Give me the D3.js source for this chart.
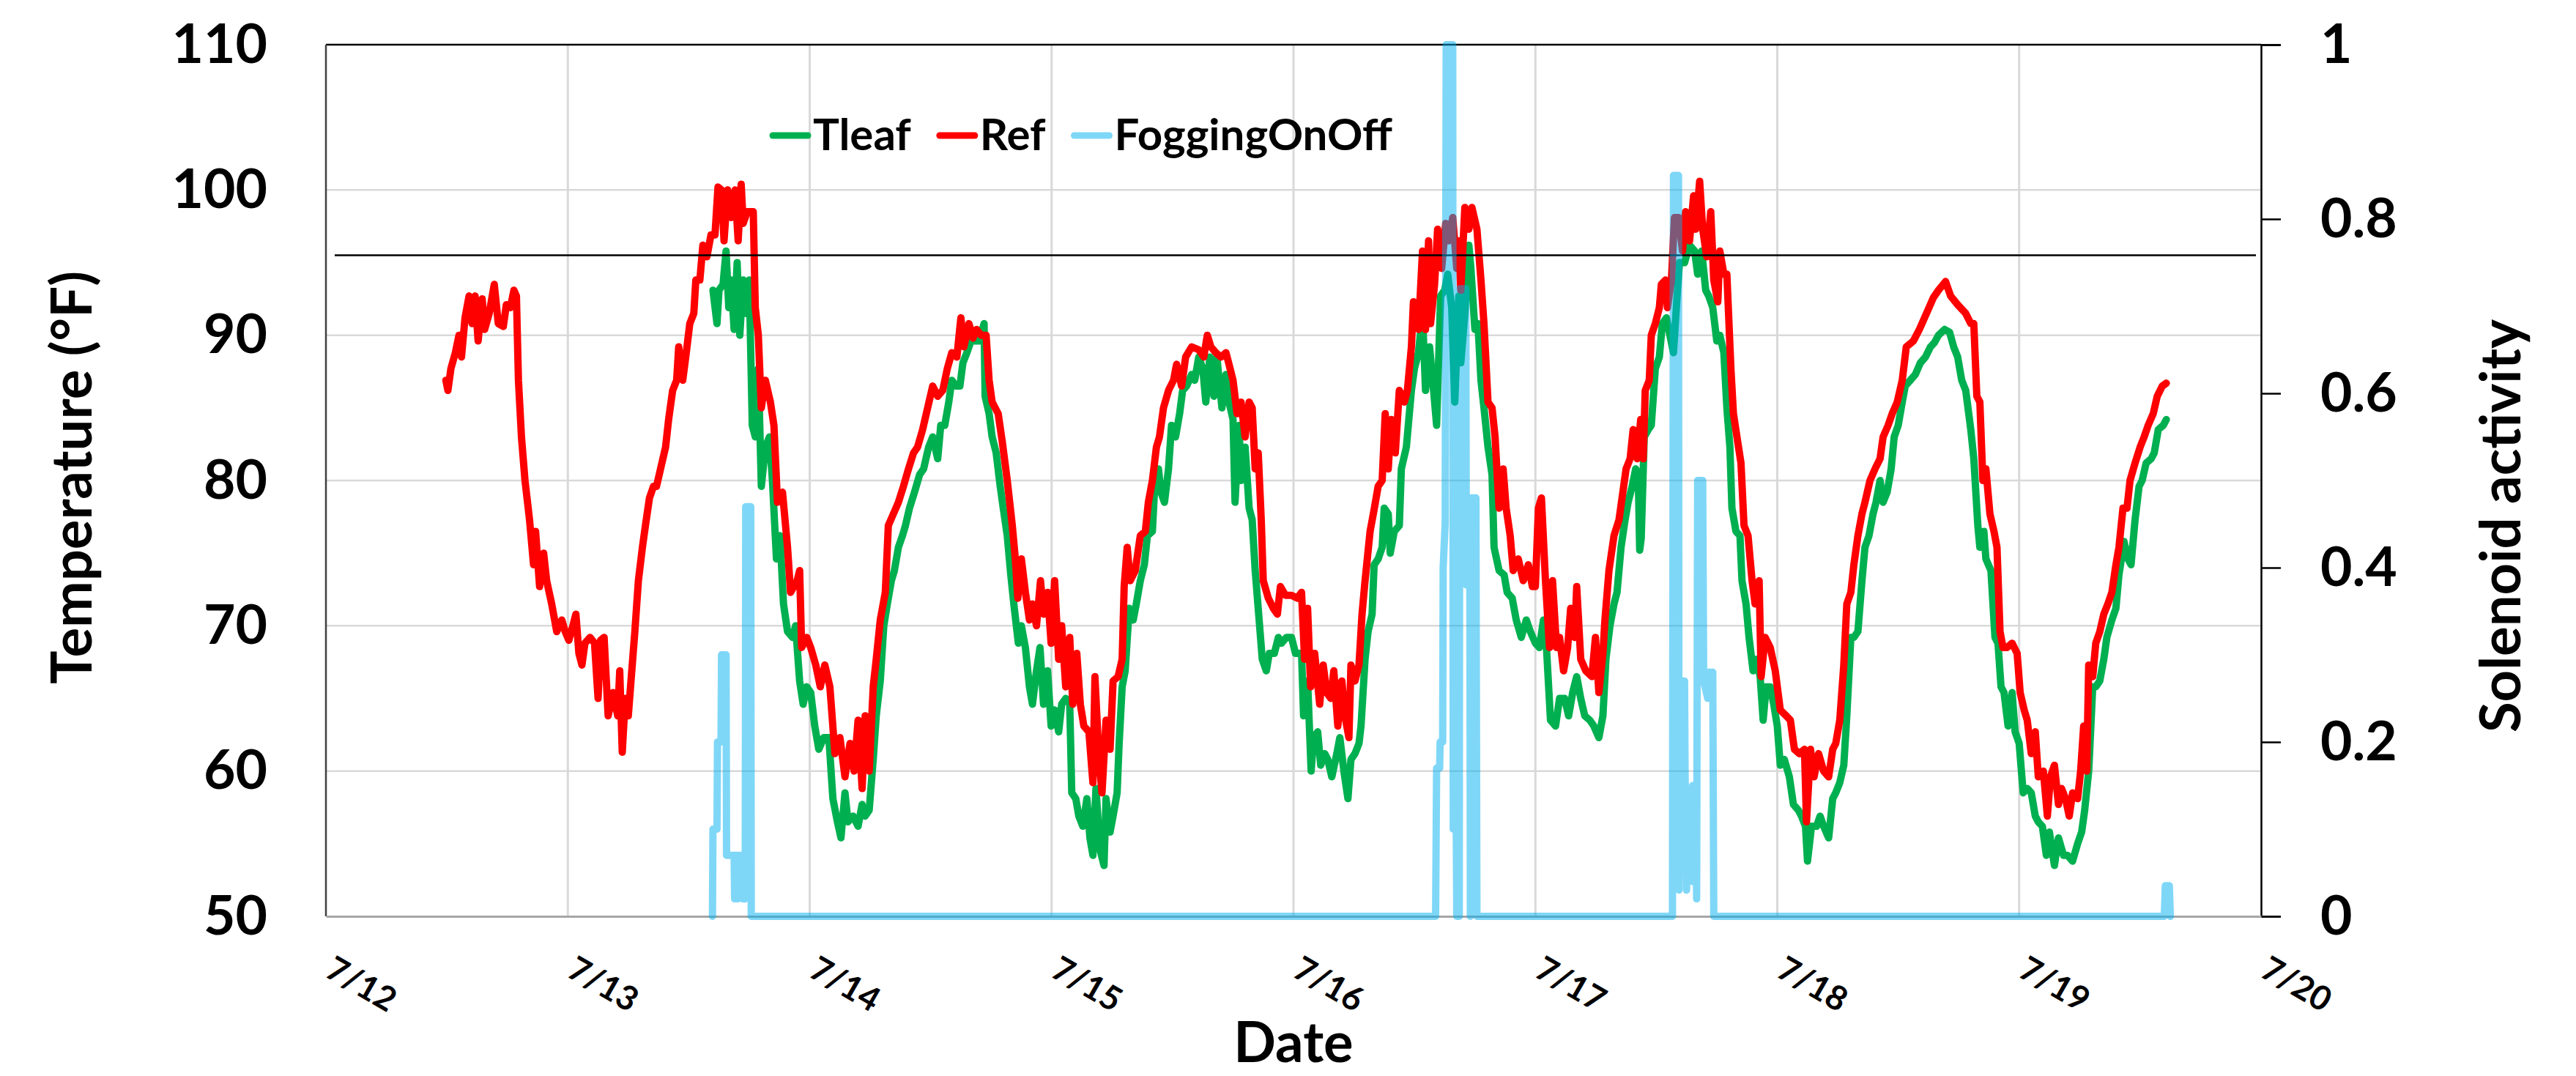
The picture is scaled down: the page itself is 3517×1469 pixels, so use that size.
<!DOCTYPE html>
<html>
<head>
<meta charset="utf-8">
<title>Tleaf / Ref / FoggingOnOff</title>
<script src="https://cdn.jsdelivr.net/npm/d3@7"></script>
<style>
body { margin: 0; background: #fff; }
svg { display: block; background: #fff; font-family: Lato, "Open Sans", sans-serif; font-weight: bold; }
.grid line { stroke: #d9d9d9; }
</style>
</head>
<body>
<script>
// hours since 7/12 00:00, value
var tleafData = [[38.4,93.1],[38.8,90.8],[39.0,93.1],[39.4,93.5],[39.7,95.8],[39.97,91.9],[40.2,93.8],[40.5,90.4],[40.8,95],[41.06,90],[41.4,93.8],[41.7,91.5],[42.0,93.8],[42.3,83.8],[42.6,83],[42.9,87.7],[43.2,79.6],[43.6,82.3],[44.0,83],[44.3,80],[44.7,74.6],[45.05,76.2],[45.4,71.5],[45.8,69.6],[46.3,69.2],[46.6,70],[47.0,66.2],[47.35,64.6],[47.7,65.8],[48.1,65.4],[48.5,63.1],[48.9,61.5],[49.4,62.3],[49.9,62.3],[50.3,58.1],[50.75,56.5],[51.1,55.4],[51.5,58.5],[51.8,56.5],[52.3,56.9],[52.8,56.2],[53.2,57.7],[53.5,56.9],[53.9,57.3],[54.3,60.8],[54.6,63.8],[55.0,66.2],[55.35,70],[55.7,71.5],[56.1,73.1],[56.4,73.8],[56.8,75.4],[57.2,76.2],[57.5,76.9],[57.9,78.1],[58.4,79.2],[58.9,80.4],[59.3,80.8],[59.8,82.3],[60.2,83],[60.7,81.5],[61.0,83.8],[61.4,83.8],[61.8,85.4],[62.1,86.9],[62.5,86.5],[62.9,86.5],[63.2,88.1],[63.6,88.8],[64.0,89.6],[64.3,89.6],[64.8,89.6],[65.3,90.8],[65.4,85.8],[65.8,84.6],[66.1,83],[66.5,81.9],[66.9,79.6],[67.2,78.1],[67.6,76.2],[67.95,73.5],[68.3,71.2],[68.7,68.8],[69.0,70],[69.4,68.5],[69.8,65.8],[70.1,64.6],[70.5,66.9],[70.85,68.5],[71.2,64.6],[71.6,66.9],[71.95,63.1],[72.3,64.2],[72.7,62.7],[73.0,64.6],[73.4,65],[73.8,64.6],[74.0,58.5],[74.4,58.1],[74.7,56.9],[75.1,56.2],[75.5,58.1],[75.8,55.4],[76.1,54.2],[76.4,58.8],[76.8,54.6],[77.2,53.5],[77.4,58.1],[77.8,55.8],[78.1,56.9],[78.5,58.5],[78.7,61.9],[79.0,65.8],[79.3,66.9],[79.7,71.2],[80.1,70.4],[80.4,71.5],[80.8,73.1],[81.2,74.2],[81.5,76.2],[82.0,76.5],[82.2,79.2],[82.6,80.8],[82.85,79.2],[83.2,78.5],[83.6,80.8],[83.9,83.8],[84.3,83],[84.7,84.6],[85.0,86.2],[85.4,86.5],[85.9,87.3],[86.2,86.9],[86.6,88.5],[87.0,87.7],[87.3,85.4],[87.7,88.5],[88.1,85.8],[88.4,88.5],[88.9,85],[89.3,87.3],[89.6,85.4],[90.0,84.2],[90.2,78.5],[90.6,83.8],[90.8,80],[91.2,82.3],[91.6,78.1],[91.9,77.3],[92.2,73.8],[92.5,71.2],[92.9,67.7],[93.3,66.9],[93.6,68.1],[94.1,68.1],[94.5,69.2],[94.8,68.8],[95.3,69.2],[95.8,69.2],[96.2,68.1],[96.8,68.1],[97.0,63.8],[97.4,66.2],[97.75,60],[98.0,62.3],[98.4,62.7],[98.7,60.4],[99.1,61.2],[99.4,60.8],[99.8,59.6],[100.3,61.2],[100.6,62.3],[101.0,60],[101.4,58.1],[101.7,60.8],[102.1,61.2],[102.5,61.9],[102.7,63.1],[103.1,67.7],[103.4,69.6],[103.8,70.8],[104.0,74.2],[104.4,74.6],[104.8,75.4],[105.0,78.1],[105.4,77.7],[105.6,75],[106.0,76.5],[106.5,76.9],[106.7,80.8],[107.2,82.3],[107.7,86.2],[108.0,87.7],[108.4,88.8],[108.8,91.5],[109.1,86.2],[109.5,89.2],[109.9,86.2],[110.2,83.8],[110.6,92.7],[111.0,93.1],[111.3,94.2],[111.7,91.9],[112.0,85.4],[112.4,92.7],[112.6,88.1],[113.0,91.5],[113.4,96.2],[113.6,94.6],[114.0,90.4],[114.3,90.8],[114.6,86.9],[114.9,85],[115.3,82.3],[115.7,80.4],[115.9,75.4],[116.4,73.8],[116.9,73.5],[117.2,72.3],[117.7,71.9],[118.1,70.4],[118.6,69.2],[119.1,70.4],[119.5,69.6],[120.0,68.8],[120.4,68.5],[120.8,70.4],[121.1,68.5],[121.5,63.5],[122.0,63.1],[122.4,65],[122.9,65],[123.3,63.8],[123.7,65.4],[124.1,66.5],[124.5,65],[124.9,63.8],[125.4,63.5],[125.8,63.1],[126.3,62.3],[126.7,63.8],[127.0,67.7],[127.4,70],[127.8,71.5],[128.1,72.3],[128.5,75.4],[128.9,77.3],[129.2,78.5],[129.6,79.6],[129.95,80.8],[130.2,80.5],[130.35,75.2],[130.5,76],[130.8,83],[131.2,83.5],[131.5,83.8],[131.9,87.7],[132.3,88.5],[132.6,90.8],[133.0,91.2],[133.35,90],[133.7,88.8],[134.1,93.1],[134.3,95],[134.8,95],[135.3,96.2],[135.8,95.8],[136.1,94.2],[136.5,95.8],[136.9,93.1],[137.2,92.7],[137.6,91.9],[138.0,89.6],[138.3,90],[138.7,88.8],[139.0,85],[139.3,82.3],[139.5,78.1],[139.9,76.5],[140.3,76.2],[140.5,73.1],[140.9,71.5],[141.2,69.2],[141.6,66.9],[141.95,67.7],[142.3,66.5],[142.6,63.5],[142.9,65.8],[143.3,65.8],[143.65,64.6],[144.0,63.1],[144.3,60.4],[144.7,60.8],[145.2,59.6],[145.6,57.7],[146.1,57.3],[146.4,56.9],[146.8,56.2],[147.0,53.8],[147.4,56.2],[147.9,56.2],[148.25,56.9],[148.6,56.2],[149.1,55.4],[149.5,58.1],[149.8,58.5],[150.2,59.2],[150.6,60.4],[150.9,63.8],[151.3,69.2],[151.6,69.2],[152.0,69.6],[152.4,73.1],[152.7,75.4],[153.1,76.2],[153.5,77.7],[153.8,78.5],[154.2,80],[154.5,78.5],[154.9,79.2],[155.3,80.8],[155.6,83],[156.0,83.8],[156.4,85.4],[156.7,86.5],[157.2,86.9],[157.7,87.3],[158.2,88.1],[158.7,88.5],[159.2,89.2],[159.6,89.5],[160.0,90],[160.6,90.4],[161.1,90.2],[161.5,89.2],[161.9,88.5],[162.3,86.9],[162.7,86.2],[163.2,83.5],[163.5,81.5],[163.9,76.9],[164.1,75.4],[164.5,76.5],[164.7,74.6],[165.2,73.8],[165.6,69.2],[165.9,68.8],[166.2,65.8],[166.5,65.4],[166.9,63.1],[167.3,65.4],[167.6,62.7],[168.0,61.9],[168.4,58.5],[168.8,58.8],[169.2,58.5],[169.6,56.9],[169.9,56.5],[170.3,56.2],[170.7,54.2],[171.0,55.8],[171.5,53.5],[171.9,55.4],[172.4,54.2],[172.8,54.2],[173.3,53.8],[173.8,55],[174.2,55.8],[174.5,57.3],[174.9,60],[175.3,65.8],[175.6,65.8],[176.0,66.2],[176.4,67.7],[176.7,69.2],[177.2,70.4],[177.6,71.2],[177.9,73.5],[178.4,75.8],[178.8,74.6],[179.1,74.2],[179.5,77.3],[179.9,79.6],[180.2,80],[180.6,81.2],[181.1,81.5],[181.4,81.9],[181.8,83.5],[182.3,83.8],[182.6,84.2]];

var refData = [[11.9,86.9],[12.1,86.2],[12.4,87.7],[12.84,88.8],[13.2,90],[13.45,88.5],[13.8,91.2],[14.2,92.7],[14.5,90.8],[14.8,92.7],[15.1,89.6],[15.5,92.5],[15.75,90.4],[16.2,91.5],[16.7,93.5],[17.1,90.8],[17.6,90.6],[17.9,92.1],[18.3,91.9],[18.65,93.1],[18.9,92.7],[19.1,86.9],[19.4,83],[19.75,80],[20.2,77.3],[20.6,74.2],[20.8,76.5],[21.2,72.7],[21.6,75],[21.9,73.1],[22.4,71.5],[22.9,69.6],[23.4,70.4],[23.74,69.6],[24.1,69],[24.5,70],[24.8,70.8],[25.1,68.1],[25.4,67.3],[25.7,68.8],[26.2,69.2],[26.65,68.8],[27.0,65],[27.25,69],[27.6,69.2],[28.0,63.8],[28.5,65.4],[28.95,63.8],[29.15,66.9],[29.4,61.3],[29.7,65],[30.0,63.8],[30.3,66.5],[30.65,69.6],[31.0,73.1],[31.4,75.4],[31.7,76.9],[32.1,78.8],[32.5,79.6],[32.8,79.6],[33.2,80.8],[33.7,82.3],[34.0,84.2],[34.4,86.2],[34.8,86.9],[35.0,89.2],[35.4,86.9],[35.7,88.5],[36.1,90.8],[36.5,91.5],[36.7,93.8],[37.1,93.8],[37.4,96.2],[37.8,95.4],[38.2,96.9],[38.6,96.9],[38.9,100.2],[39.25,100],[39.5,96.5],[39.85,100],[40.2,98.1],[40.6,100],[40.9,96.5],[41.2,100.4],[41.4,97.7],[41.8,98.5],[42.4,98.5],[42.6,91.9],[42.9,90],[43.2,85],[43.6,86.9],[44.1,85.4],[44.45,83.8],[44.8,78.5],[45.3,79.2],[45.8,75.4],[46.1,72.3],[46.75,73.1],[47.0,73.8],[47.2,68.5],[47.7,69.2],[48.1,68.5],[48.6,67.3],[49.05,65.8],[49.5,67.3],[50.0,65.8],[50.5,61.2],[51.0,62.3],[51.5,59.6],[52.0,61.9],[52.4,60],[52.8,63.5],[53.2,58.8],[53.5,63.8],[53.9,60],[54.3,65.8],[54.6,67.7],[55.0,70.4],[55.5,72.3],[55.8,76.9],[56.3,77.7],[56.8,78.5],[57.3,79.6],[57.8,80.8],[58.3,81.9],[58.7,82.3],[59.2,83.5],[59.7,85],[60.2,86.5],[60.7,85.8],[61.2,86.2],[61.65,87.7],[62.1,88.8],[62.6,88.5],[63.0,91.2],[63.3,89.2],[63.8,90.8],[64.2,89.8],[64.55,90.4],[65.0,90],[65.5,90],[65.8,86.9],[66.1,85.4],[66.7,84.6],[67.1,82.7],[67.6,80],[68.1,76.9],[68.4,74.6],[68.65,71.9],[69.0,74.6],[69.4,72.3],[69.8,70.4],[70.1,71.5],[70.5,70],[70.9,73.1],[71.2,70.8],[71.6,72.3],[71.95,68.8],[72.3,73.1],[72.7,67.7],[73.0,70],[73.4,65.8],[73.8,69.2],[74.1,64.6],[74.5,68.1],[74.85,64.6],[75.2,63.1],[75.7,62.7],[76.1,59.2],[76.3,66.5],[76.7,60.8],[77.0,58.5],[77.4,63.5],[77.8,61.5],[78.1,66.2],[78.6,66.5],[79.0,67.7],[79.2,72.7],[79.5,75.4],[79.8,73.1],[80.3,73.8],[80.8,76.2],[81.3,76.5],[81.6,78.5],[82.0,80],[82.4,82.3],[82.7,83],[83.1,85],[83.6,86.2],[84.1,86.9],[84.4,88],[84.9,86.5],[85.3,88.5],[85.9,89.2],[86.6,89],[87.1,88.5],[87.45,90],[87.8,89.2],[88.3,88.8],[88.8,88.5],[89.3,88.8],[89.6,88],[90.0,86.9],[90.4,84.6],[90.8,85.4],[91.2,83],[91.6,85.4],[91.9,85],[92.2,80.8],[92.5,81.9],[92.8,77.3],[93.0,73.1],[93.5,71.9],[94.0,71.2],[94.4,70.8],[94.7,72.7],[95.2,72.1],[95.8,72.1],[96.4,71.9],[96.8,72.3],[97.1,67.7],[97.4,71.2],[97.7,65.8],[98.1,68.1],[98.6,64.6],[98.95,67.3],[99.3,65.4],[99.7,65],[100.0,66.9],[100.4,63.1],[100.8,66.2],[101.1,63.8],[101.5,62.3],[101.7,67.3],[102.1,66.2],[102.5,67.3],[102.8,70.8],[103.1,73.1],[103.6,76.5],[104.0,78],[104.4,79.6],[104.8,80],[105.1,84.6],[105.4,80.8],[105.7,84.2],[106.1,81.9],[106.5,86.2],[107.0,85.4],[107.3,86.2],[107.7,89.2],[107.9,92.3],[108.4,90.4],[108.8,95.8],[109.1,90.4],[109.4,96.5],[109.6,90.8],[110.0,93.5],[110.3,97.3],[110.7,94.6],[111.1,97.7],[111.4,96.5],[111.8,98.1],[112.2,94.6],[112.4,96.5],[112.6,93.1],[113.0,98.8],[113.4,97.3],[113.7,98.8],[114.2,97.3],[114.6,93.8],[114.9,90.8],[115.3,85.4],[115.7,85],[116.0,83],[116.4,78.1],[116.8,80.8],[117.1,78.1],[117.5,76.2],[117.8,73.8],[118.3,74.6],[118.8,73.1],[119.3,74.2],[119.7,72.7],[120.0,72.7],[120.3,78.1],[120.6,78.8],[121.0,73.1],[121.4,68.5],[121.7,73.1],[122.1,68.5],[122.4,69.2],[122.8,66.9],[123.2,68.5],[123.5,71.2],[123.9,69.2],[124.1,72.7],[124.5,67.7],[125.0,66.9],[125.6,66.5],[125.96,69.2],[126.3,65.4],[126.7,68.1],[126.9,70.4],[127.3,73.8],[127.8,76.2],[128.3,77.3],[128.6,78.8],[129.0,80.8],[129.4,81.5],[129.7,83.5],[130.1,81.5],[130.45,84.2],[130.7,81.5],[130.9,86.2],[131.3,86.9],[131.5,90],[131.9,90.8],[132.3,91.9],[132.5,93.5],[132.9,93.8],[133.1,91.9],[133.5,93.8],[133.8,98.1],[134.2,98.1],[134.6,95.8],[134.9,98.5],[135.3,96.5],[135.7,99.6],[135.9,97.3],[136.3,100.6],[136.6,97.3],[137.0,95.4],[137.4,98.5],[137.7,93.8],[138.1,92.3],[138.3,95.8],[138.7,94.2],[139.0,94.2],[139.4,87.7],[139.65,84.6],[140.0,83],[140.4,81.2],[140.7,76.9],[141.1,76.2],[141.5,73.1],[141.8,71.5],[142.2,73.1],[142.4,66.5],[142.8,69.2],[143.3,68.5],[143.8,66.9],[144.3,64.2],[144.9,63.8],[145.3,63.5],[145.7,61.5],[146.2,61.2],[146.7,61.5],[146.9,56.5],[147.3,61.5],[147.65,59.6],[148.1,61.2],[148.6,60],[149.1,59.6],[149.5,61.5],[149.8,61.9],[150.2,63.5],[150.6,67.3],[150.9,71.5],[151.3,72.3],[151.6,74.2],[152.0,76.2],[152.4,77.7],[152.7,78.5],[153.2,80],[153.7,80.8],[154.2,81.5],[154.5,83],[155.0,83.8],[155.4,84.6],[155.9,85.4],[156.4,86.9],[156.8,89.2],[157.5,89.6],[158.1,90.4],[158.8,91.5],[159.5,92.6],[160.0,93.1],[160.7,93.7],[161.2,92.7],[161.9,92.1],[162.7,91.5],[163.2,90.8],[163.5,90.8],[163.8,85.8],[164.1,85.4],[164.4,80],[164.7,80.8],[165.1,77.7],[165.5,76.5],[165.8,75.4],[166.1,69.6],[166.4,68.5],[166.8,68.5],[167.3,68.8],[167.8,68.1],[168.1,65.4],[168.5,64.2],[168.8,63.5],[169.2,61.2],[169.6,62.7],[169.9,59.6],[170.4,60],[170.8,56.9],[171.1,59.6],[171.5,60.4],[171.9,57.7],[172.2,58.8],[172.6,58.1],[172.97,56.9],[173.3,58.5],[173.8,58.1],[174.1,60],[174.4,63.1],[174.7,60],[174.9,67.3],[175.3,66.5],[175.6,68.8],[176.0,69.6],[176.4,70.8],[176.8,71.5],[177.2,72.3],[177.6,74.2],[177.9,75.4],[178.3,78.1],[178.7,78.1],[179.0,80],[179.5,81.2],[180.0,82.3],[180.4,83],[180.8,83.8],[181.3,84.6],[181.7,85.8],[182.2,86.5],[182.6,86.7]];

var fogData = [[38.35,0],[38.4,0.1],[38.8,0.1],[38.85,0.2],[39.2,0.2],[39.25,0.3],[39.7,0.3],[39.75,0.07],[40.5,0.07],[40.55,0.02],[40.65,0.07],[40.8,0.07],[40.85,0.02],[40.95,0.07],[41.3,0.07],[41.35,0.02],[41.6,0.02],[41.65,0.47],[42.15,0.47],[42.2,0],[110.1,0],[110.2,0.17],[110.5,0.17],[110.55,0.2],[110.8,0.2],[110.85,0.4],[111.05,0.45],[111.15,1.0],[111.8,1.0],[111.85,0.1],[112.15,0.1],[112.2,0],[112.45,0],[112.5,0.72],[113.1,0.72],[113.15,0.38],[113.5,0.38],[113.55,0],[113.6,0.48],[114.1,0.48],[114.2,0],[133.6,0],[133.7,0.85],[134.2,0.85],[134.25,0.03],[134.3,0.27],[134.8,0.27],[134.85,0.17],[135.0,0.03],[135.1,0.12],[135.5,0.12],[135.55,0.04],[135.6,0.15],[135.9,0.15],[136.0,0.02],[136.1,0.5],[136.6,0.5],[136.7,0.27],[137.1,0.25],[137.2,0.28],[137.6,0.28],[137.7,0],[182.4,0],[182.5,0.035],[182.9,0.035],[183.0,0]];

var seriesNames = ["Tleaf", "Ref", "FoggingOnOff"];
var seriesColors = ["#00b050", "#ff0000", "#00b0f0"];
var tempTicks = [50, 60, 70, 80, 90, 100, 110];
var solenoidTicks = [0, 0.2, 0.4, 0.6, 0.8, 1];
var setpoint = 95.5;
var dayCount = 8;

var width = 3517, height = 1469;
var plotL = 445, plotR = 3087, plotT = 61, plotB = 1251;

var start = new Date(2020, 6, 12);
function at(h) { return new Date(+start + h * 36e5); }
var end = d3.timeDay.offset(start, dayCount);

var x = d3.scaleTime().domain([start, end]).range([plotL, plotR]);
var yL = d3.scaleLinear().domain([50, 110]).range([plotB, plotT]);
var yR = d3.scaleLinear().domain([0, 1]).range([plotB, plotT]);
var days = d3.timeDay.range(start, d3.timeDay.offset(end, 1));

var svg = d3.select('body').append('svg')
  .attr('width', width)
  .attr('height', height);

// gridlines
var grid = svg.append('g').attr('class', 'grid');
grid.selectAll('.h').data(tempTicks.slice(1, -1)).enter().append('line')
  .attr('x1', plotL).attr('x2', plotR)
  .attr('y1', function(d){ return yL(d); }).attr('y2', function(d){ return yL(d); })
  .style('stroke-width', 2.5);
grid.selectAll('.v').data(days.slice(1, -1)).enter().append('line')
  .attr('x1', function(d){ return x(d); }).attr('x2', function(d){ return x(d); })
  .attr('y1', plotT).attr('y2', plotB)
  .style('stroke-width', 3);

// frame
svg.append('line').attr('x1', plotL).attr('x2', plotR).attr('y1', plotT).attr('y2', plotT)
  .style('stroke', '#000').style('stroke-width', 2.5);
svg.append('line').attr('x1', plotL).attr('x2', plotL).attr('y1', plotT).attr('y2', plotB)
  .style('stroke', '#404040').style('stroke-width', 2.5);

// left axis
var axL = svg.append('g').attr('transform', 'translate(' + plotL + ',0)')
  .call(d3.axisLeft(yL).tickValues(tempTicks).tickSize(0).tickPadding(80));
axL.select('.domain').remove();
axL.selectAll('text').style('font-size', '75px').style('font-family', 'Lato').style('font-weight', 'bold').attr('fill', '#000');

// right axis
var axR = svg.append('g').attr('transform', 'translate(' + plotR + ',0)')
  .call(d3.axisRight(yR).tickValues(solenoidTicks).tickSize(27).tickPadding(54).tickFormat(d3.format('~g')));
axR.select('.domain').style('stroke', '#000').style('stroke-width', 2.5);
axR.selectAll('line').style('stroke', '#000').style('stroke-width', 2.5);
axR.selectAll('text').style('font-size', '75px').style('font-family', 'Lato').style('font-weight', 'bold').attr('fill', '#000');

// bottom axis
var axB = svg.append('g').attr('transform', 'translate(0,' + plotB + ')')
  .call(d3.axisBottom(x).tickValues(days).tickSize(0).tickSizeOuter(0).tickFormat(d3.timeFormat('%-m/%-d')));
axB.select('.domain').style('stroke', '#a6a6a6').style('stroke-width', 3);
axB.selectAll('text')
  .attr('x', 0).attr('y', 0).attr('dy', 0)
  .attr('transform', 'translate(-4,81) rotate(30)')
  .style('text-anchor', 'start')
  .style('font-size', '46px').style('font-family', 'Lato').style('font-weight', 'bold').attr('fill', '#000');

// series
var line = d3.line()
  .x(function(d){ return x(at(d[0])); });

svg.append('path').datum(tleafData)
  .attr('d', line.y(function(d){ return yL(d[1]); }))
  .style('fill', 'none').style('stroke', seriesColors[0]).style('stroke-width', 10)
  .style('stroke-linejoin', 'round').style('stroke-linecap', 'round');

svg.append('path').datum(refData)
  .attr('d', line.y(function(d){ return yL(d[1]); }))
  .style('fill', 'none').style('stroke', seriesColors[1]).style('stroke-width', 10)
  .style('stroke-linejoin', 'round').style('stroke-linecap', 'round');

// setpoint line
svg.append('line')
  .attr('x1', plotL + 12).attr('x2', plotR - 7)
  .attr('y1', yL(setpoint)).attr('y2', yL(setpoint))
  .style('stroke', '#000').style('stroke-width', 2.5);

svg.append('path').datum(fogData)
  .attr('d', line.y(function(d){ return yR(d[1]); }))
  .style('fill', 'none').style('stroke', seriesColors[2]).style('stroke-width', 10)
  .style('stroke-opacity', 0.5)
  .style('stroke-linejoin', 'round').style('stroke-linecap', 'round');

// legend
var lg = svg.append('g').attr('transform', 'translate(1055,0)');
var lx = 0;
seriesNames.forEach(function(name, i){
  lg.append('line')
    .attr('x1', lx).attr('x2', lx + 48).attr('y1', 185).attr('y2', 185)
    .style('stroke', seriesColors[i]).style('stroke-width', 9).style('stroke-linecap', 'round')
    .style('stroke-opacity', i === 2 ? 0.5 : 1);
  var t = lg.append('text')
    .attr('x', lx + 55).attr('y', 205)
    .style('font-size', '60px').style('font-family', 'Lato').style('font-weight', 'bold')
    .text(name);
  lx += 55 + t.node().getComputedTextLength() + 39;
});

// titles
svg.append('text')
  .attr('transform', 'translate(125,652) rotate(-90)')
  .style('text-anchor', 'middle').style('font-size', '76px')
  .text('Temperature (°F)');

svg.append('text')
  .attr('transform', 'translate(3441,718) rotate(-90)')
  .style('text-anchor', 'middle').style('font-size', '76px')
  .text('Solenoid activity');

svg.append('text')
  .attr('x', (plotL + plotR) / 2).attr('y', 1450)
  .style('text-anchor', 'middle').style('font-size', '76px')
  .text('Date');
</script>
</body>
</html>
